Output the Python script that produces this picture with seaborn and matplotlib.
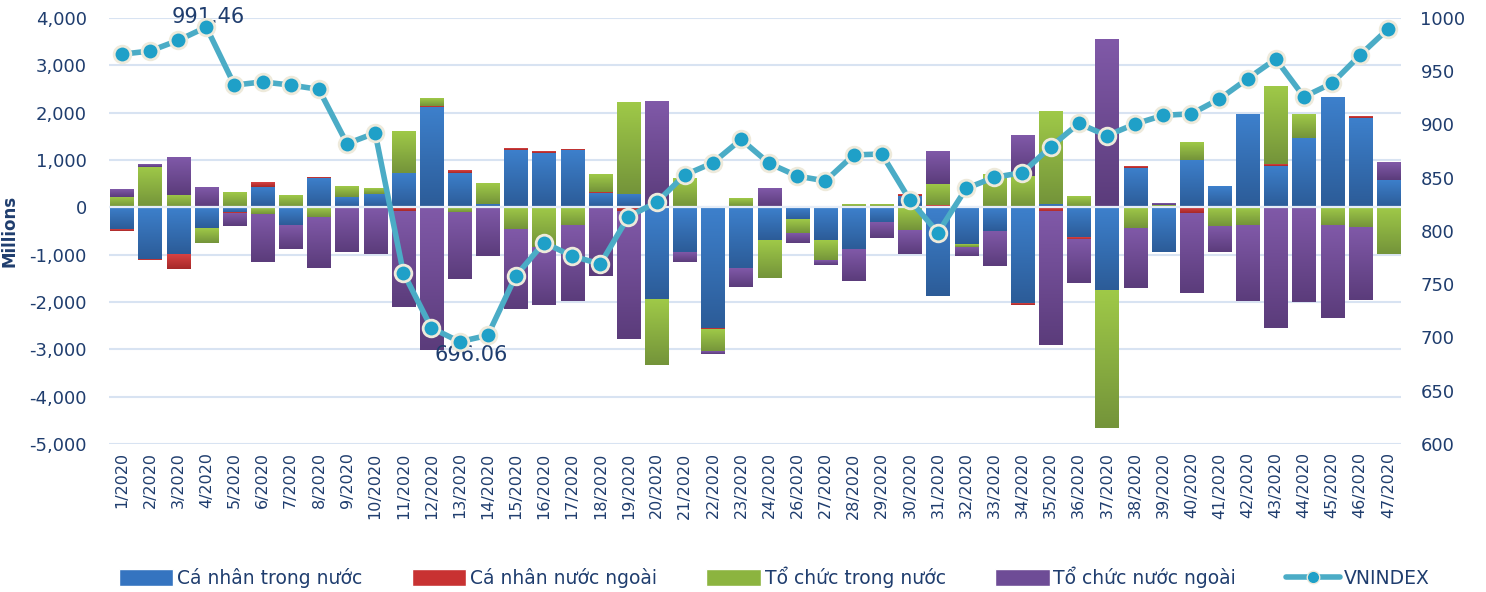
import numpy as np
import pandas as pd
import seaborn as sns
import matplotlib.pyplot as plt
from matplotlib.lines import Line2D
from matplotlib.patches import Patch
from matplotlib.colors import LinearSegmentedColormap

weeks = [1, 2, 3, 4, 5, 6, 7, 8, 9, 10, 11, 12, 13, 14, 15, 16, 17, 18, 19, 20, 21, 22, 23, 24,
         26, 27, 28, 29, 30, 31, 32, 33, 34, 35, 36, 37, 38, 39, 40, 41, 42, 43, 44, 45, 46, 47]
week_labels = [f"{w}/2020" for w in weeks]

# net trading value (millions) by investor group
ca_nhan_trong_nuoc = [-465, -1085, -986, -437, -113, 430, -373, 620, 218, 289, 725, 2127, 732, 77,
                      1211, 1148, 1211, 303, 289, -1937, -944, -2549, -1282, -690, -268, -690, -880,
                      -331, 246, -1866, -782, -500, -2028, 77, -634, -1746, 838, -937, 1000, 430,
                      1951, 880, 1472, 2310, 1887, 577]
ca_nhan_nuoc_ngoai = [-28, -20, -310, 0, -14, 85, 0, 20, 0, 0, -70, 20, 56, 0, 42, 42, 21, 21, -85,
                      0, 0, -21, 28, 0, 0, -21, 0, 0, 42, 42, 0, 0, -28, -92, -49, 28, 35, 0, -120,
                      0, 0, 35, 0, 0, 42, 0]
to_chuc_trong_nuoc = [218, 852, 260, -310, 303, -141, 240, -204, 232, 120, 887, 162, -99, 437, -458,
                      -831, -387, 380, 1937, -1387, 599, -479, 148, -796, -282, -423, 50, 50, -479,
                      458, -56, 683, 662, 1958, 218, -2908, -437, 56, 380, -394, -380, 1627, 500,
                      -394, -415, -986]
to_chuc_nuoc_ngoai = [148, 63, 782, 408, -260, -1007, -500, -1070, -944, -986, -2028, -3014, -1408,
                      -1028, -1683, -1225, -1592, -1444, -2690, 2225, -204, -56, -394, 387, -197, -85,
                      -676, -317, -507, 690, -190, -732, 866, -2817, -915, 3528, -1261, 35, -1690,
                      -542, -1599, -2549, -2000, -1944, -1542, 380]
vnindex = [966, 969, 979, 991.46, 937, 940, 937, 933, 882, 892, 761, 709, 696.06, 702, 758, 789,
           776.5, 769, 813.5, 827, 852.6, 864, 886, 863.5, 851.6, 847, 871.4, 872.3, 829, 798.4,
           840, 850.4, 854.8, 879, 901, 889.5, 900.5, 908.6, 910, 924, 943, 961.5, 926, 938.7,
           965.3, 990]

series = {
    "Cá nhân trong nước": ca_nhan_trong_nuoc,
    "Cá nhân nước ngoài": ca_nhan_nuoc_ngoai,
    "Tổ chức trong nước": to_chuc_trong_nuoc,
    "Tổ chức nước ngoài": to_chuc_nuoc_ngoai,
}
colors = ["#3574c0", "#c83232", "#8cb43f", "#6e4c96"]
# light (top) / dark (bottom) shade of each bar segment
shades = [("#3d80cc", "#2c5c98"), ("#d84242", "#a52828"),
          ("#9fc948", "#74943a"), ("#8059a8", "#5b3c7b")]
navy = "#1f3d6e"

df = pd.DataFrame(series, index=week_labels)

sns.set_theme(style="white")
plt.rcParams["font.family"] = ["DejaVu Sans"]

fig = plt.figure(figsize=(14.86, 5.92), dpi=100)
ax = fig.add_axes([0.0733, 0.25, 0.8695, 0.7196])

grad = np.linspace(1, 0, 64).reshape(-1, 1)
x = np.arange(len(df))
pos_base = np.zeros(len(df))
neg_base = np.zeros(len(df))
for (name, vals), c, (light, dark) in zip(df.items(), colors, shades):
    v = vals.to_numpy(dtype=float)
    bottom = np.where(v >= 0, pos_base, neg_base)
    bars = ax.bar(x, v, width=0.82, bottom=bottom, color=c, linewidth=0, zorder=2)
    cmap = LinearSegmentedColormap.from_list(name, [dark, light])
    for b in bars:
        h = b.get_height()
        if h == 0:
            continue
        y0 = b.get_y()
        ax.imshow(grad, cmap=cmap, vmin=0, vmax=1, aspect="auto", origin="upper",
                  extent=[b.get_x(), b.get_x() + b.get_width(), min(y0, y0 + h), max(y0, y0 + h)],
                  zorder=2.1, interpolation="bilinear")
    pos_base += np.clip(v, 0, None)
    neg_base += np.clip(v, None, 0)

ax.axhline(0, color="#e6edf7", linewidth=1.6, zorder=3)
ax.set_ylim(-5000, 4000)
ax.set_yticks(np.arange(-5000, 4001, 1000))
ax.yaxis.set_major_formatter(plt.FuncFormatter(lambda v, p: f"{int(v):,}"))
ax.set_xlim(-0.46, len(df) - 0.55)
ax.set_xticks(x)
ax.set_xticklabels(week_labels, rotation=90)
ax.grid(axis="y", color="#d8e3f2", linewidth=1.5, zorder=0)
ax.set_axisbelow(True)
for s in ax.spines.values():
    s.set_visible(False)
ax.tick_params(axis="y", length=0, pad=16, labelsize=13, labelcolor=navy)
ax.tick_params(axis="x", length=0, pad=6, labelsize=11.5, labelcolor=navy)
ax.set_ylabel("Millions", fontsize=12, fontweight="bold", color=navy, labelpad=8)

ax2 = ax.twinx()
sns.lineplot(x=x, y=vnindex, ax=ax2, color="#4bacc6", linewidth=4, marker="o",
             markersize=12, markerfacecolor="#1fa0c8", markeredgecolor="#eeeadb",
             markeredgewidth=2, zorder=5)
ax2.set_ylim(600, 1000)
ax2.set_yticks(np.arange(600, 1001, 50))
ax2.tick_params(axis="y", length=0, pad=14, labelsize=13, labelcolor=navy)
ax2.set_ylabel("")
for s in ax2.spines.values():
    s.set_visible(False)
ax2.grid(False)

ax2.annotate("991.46", xy=(3, 991.46), xytext=(2, 10), textcoords="offset pixels",
             ha="center", va="center", fontsize=15, color=navy)
ax2.annotate("696.06", xy=(12, 696.06), xytext=(12, -13), textcoords="offset pixels",
             ha="center", va="center", fontsize=15, color=navy)

handles = [Patch(facecolor=c, label=n) for n, c in zip(series.keys(), colors)]
handles.append(Line2D([0], [0], color="#4bacc6", linewidth=4, marker="o", markersize=9,
                      markerfacecolor="#1fa0c8", markeredgecolor="#eeeadb", label="VNINDEX"))
fig.legend(handles=handles, loc="center", bbox_to_anchor=(0.521, 0.025), ncol=5,
           frameon=False, fontsize=13.5, handlelength=2.9, handleheight=1.0,
           columnspacing=2.65, handletextpad=0.2, labelcolor=navy)

fig.savefig("out.png", dpi=100)
